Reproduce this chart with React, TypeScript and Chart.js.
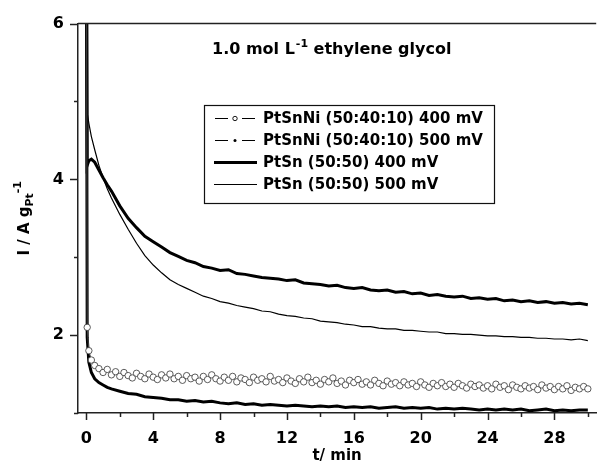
import React, { useEffect, useRef } from "react";
import { Chart, registerables } from "chart.js";

Chart.register(...registerables);

// time axis (min)
const time = [
  0, 0.05, 0.15, 0.3, 0.5, 0.75, 1, 1.25, 1.5,
  2, 2.5, 3, 3.5, 4, 4.5, 5, 5.5, 6, 6.5,
  7, 7.5, 8, 8.5, 9, 9.5, 10, 10.5, 11, 11.5,
  12, 12.5, 13, 13.5, 14, 14.5, 15, 15.5, 16, 16.5,
  17, 17.5, 18, 18.5, 19, 19.5, 20, 20.5, 21, 21.5,
  22, 22.5, 23, 23.5, 24, 24.5, 25, 25.5, 26, 26.5,
  27, 27.5, 28, 28.5, 29, 29.5, 30,
];

// denser sampling of the open-circle series
const timeFine = [
  0, 0.05, 0.15, 0.3, 0.5,
  0.75, 1, 1.25, 1.5, 1.75,
  2, 2.25, 2.5, 2.75, 3, 3.25, 3.5, 3.75,
  4, 4.25, 4.5, 4.75, 5, 5.25, 5.5, 5.75,
  6, 6.25, 6.5, 6.75, 7, 7.25, 7.5, 7.75,
  8, 8.25, 8.5, 8.75, 9, 9.25, 9.5, 9.75,
  10, 10.25, 10.5, 10.75, 11, 11.25, 11.5, 11.75,
  12, 12.25, 12.5, 12.75, 13, 13.25, 13.5, 13.75,
  14, 14.25, 14.5, 14.75, 15, 15.25, 15.5, 15.75,
  16, 16.25, 16.5, 16.75, 17, 17.25, 17.5, 17.75,
  18, 18.25, 18.5, 18.75, 19, 19.25, 19.5, 19.75,
  20, 20.25, 20.5, 20.75, 21, 21.25, 21.5, 21.75,
  22, 22.25, 22.5, 22.75, 23, 23.25, 23.5, 23.75,
  24, 24.25, 24.5, 24.75, 25, 25.25, 25.5, 25.75,
  26, 26.25, 26.5, 26.75, 27, 27.25, 27.5, 27.75,
  28, 28.25, 28.5, 28.75, 29, 29.25, 29.5, 29.75,
  30,
];

const ptSnNi400 = [
  8, 2.1, 1.8, 1.68, 1.61,
  1.57, 1.52, 1.56, 1.49, 1.53,
  1.47, 1.52, 1.48, 1.45, 1.51, 1.47, 1.44, 1.5,
  1.46, 1.43, 1.49, 1.45, 1.5, 1.44, 1.47, 1.42,
  1.48, 1.44, 1.46, 1.41, 1.47, 1.43, 1.49, 1.44,
  1.41, 1.46, 1.42, 1.47, 1.4, 1.45, 1.43, 1.39,
  1.46, 1.42, 1.44, 1.4, 1.47, 1.41, 1.43, 1.39,
  1.45, 1.41, 1.38, 1.44, 1.4, 1.46, 1.39, 1.42,
  1.37, 1.43, 1.4, 1.45, 1.38, 1.41, 1.36, 1.42,
  1.39, 1.43, 1.37, 1.4, 1.36, 1.42, 1.38, 1.35,
  1.41, 1.37, 1.39, 1.35, 1.4, 1.36, 1.38, 1.34,
  1.4, 1.36, 1.33, 1.38, 1.35, 1.39, 1.34, 1.37,
  1.33, 1.38, 1.35, 1.32, 1.37, 1.34, 1.36, 1.32,
  1.35, 1.31, 1.37, 1.33, 1.35, 1.3, 1.36, 1.33,
  1.31, 1.35, 1.32, 1.34, 1.3, 1.36, 1.32, 1.34,
  1.3, 1.34, 1.31, 1.35, 1.29, 1.33, 1.31, 1.34,
  1.31,
];

const ptSnNi500 = [
  8, 1.97, 1.65, 1.52, 1.44, 1.39, 1.36, 1.33, 1.31,
  1.28, 1.25, 1.24, 1.21, 1.2, 1.19, 1.17, 1.17, 1.15, 1.16,
  1.14, 1.15, 1.13, 1.12, 1.13, 1.11, 1.12, 1.1, 1.11, 1.1,
  1.09, 1.1, 1.09, 1.08, 1.09, 1.08, 1.09, 1.07, 1.08, 1.07,
  1.08, 1.06, 1.07, 1.08, 1.06, 1.07, 1.06, 1.07, 1.05, 1.06,
  1.05, 1.06, 1.05, 1.04, 1.05, 1.04, 1.05, 1.04, 1.05, 1.03,
  1.04, 1.05, 1.03, 1.04, 1.03, 1.04, 1.04,
];

const ptSn400 = [
  8, 4.18, 4.24, 4.26, 4.22, 4.12, 4.02, 3.93, 3.85,
  3.66, 3.5, 3.38, 3.27, 3.2, 3.13, 3.06, 3.01, 2.96, 2.93,
  2.88, 2.86, 2.83, 2.84, 2.79, 2.78, 2.76, 2.74, 2.73, 2.72,
  2.7, 2.71, 2.67, 2.66, 2.65, 2.63, 2.64, 2.61, 2.6, 2.61,
  2.58, 2.57, 2.58, 2.55, 2.56, 2.53, 2.54, 2.51, 2.52, 2.5,
  2.49, 2.5, 2.47, 2.48, 2.46, 2.47, 2.44, 2.45, 2.43, 2.44,
  2.42, 2.43, 2.41, 2.42, 2.4, 2.41, 2.39,
];

const ptSn500 = [
  8, 4.85, 4.72, 4.55, 4.38, 4.18, 4.02, 3.88, 3.76,
  3.55, 3.36, 3.18, 3.02, 2.9, 2.8, 2.71, 2.65, 2.6, 2.55,
  2.5, 2.47, 2.43, 2.41, 2.38, 2.36, 2.34, 2.31, 2.3, 2.27,
  2.25, 2.24, 2.22, 2.21, 2.18, 2.17, 2.16, 2.14, 2.13, 2.11,
  2.11, 2.09, 2.08, 2.08, 2.06, 2.06, 2.05, 2.04, 2.04, 2.02,
  2.02, 2.01, 2.01, 2.0, 1.99, 1.99, 1.98, 1.98, 1.97, 1.97,
  1.96, 1.96, 1.95, 1.95, 1.94, 1.95, 1.93,
];

const legendLabels = [
  "PtSnNi (50:40:10) 400 mV",
  "PtSnNi (50:40:10) 500 mV",
  "PtSn (50:50) 400 mV",
  "PtSn (50:50) 500 mV",
];

const xMajorTicks = [0, 4, 8, 12, 16, 20, 24, 28];
const xMinorTicks = [2, 6, 10, 14, 18, 22, 26, 30];
const yMajorTicks = [2, 4, 6];
const yMinorTicks = [1, 3, 5];

const titleParts = ["1.0 mol L", "-1", " ethylene glycol"];
const xTitle = "t/ min";
const yTitleParts = ["I / A g", "Pt", "-1"];

const FONT = '"DejaVu Sans", "Liberation Sans", Arial, sans-serif';
const AXIS_COLOR = "#222";

const toPoints = (xs: number[], vals: number[]) => vals.map((v, i) => ({ x: xs[i], y: v }));

const decorPlugin = {
  id: "decor",
  afterDraw(chart: any) {
    const ctx = chart.ctx as CanvasRenderingContext2D;
    const xs = chart.scales.x;
    const ys = chart.scales.y;
    const a = chart.chartArea;
    ctx.save();
    ctx.strokeStyle = AXIS_COLOR;
    ctx.lineWidth = 1.5;
    // top frame
    ctx.beginPath();
    ctx.moveTo(a.left, a.top);
    ctx.lineTo(a.right, a.top);
    ctx.stroke();
    const yTick = (v: number, len: number) => {
      const p = Math.round(ys.getPixelForValue(v)) + 0.5;
      ctx.beginPath();
      ctx.moveTo(a.left, p);
      ctx.lineTo(a.left - len, p);
      ctx.stroke();
    };
    yMajorTicks.forEach((v) => yTick(v, 8));
    yMinorTicks.forEach((v) => yTick(v, 4));
    const xTick = (v: number, len: number) => {
      const p = Math.round(xs.getPixelForValue(v)) + 0.5;
      ctx.beginPath();
      ctx.moveTo(p, a.bottom);
      ctx.lineTo(p, a.bottom + len);
      ctx.stroke();
    };
    xMajorTicks.forEach((v) => xTick(v, 7));
    xMinorTicks.forEach((v) => xTick(v, 4));

    ctx.fillStyle = "#000";
    ctx.textBaseline = "alphabetic";
    ctx.textAlign = "left";

    // in-plot title
    let tx = 212;
    const ty = 54;
    ctx.font = `bold 16px ${FONT}`;
    ctx.fillText(titleParts[0], tx, ty);
    tx += ctx.measureText(titleParts[0]).width + 1;
    ctx.font = `bold 11px ${FONT}`;
    ctx.fillText(titleParts[1], tx, ty - 7);
    tx += ctx.measureText(titleParts[1]).width;
    ctx.font = `bold 16px ${FONT}`;
    ctx.fillText(titleParts[2], tx, ty);

    // legend
    ctx.lineWidth = 1.2;
    ctx.strokeStyle = "#111";
    ctx.strokeRect(204.5, 105.5, 290, 98);
    const rows = [118, 140, 162, 184];
    ctx.font = `bold 15px ${FONT}`;
    ctx.textBaseline = "middle";
    rows.forEach((ry, i) => {
      ctx.strokeStyle = "#000";
      if (i === 0 || i === 1) {
        ctx.lineWidth = 1;
        ctx.beginPath();
        ctx.moveTo(215, ry + 0.5);
        ctx.lineTo(228, ry + 0.5);
        ctx.moveTo(242, ry + 0.5);
        ctx.lineTo(255, ry + 0.5);
        ctx.stroke();
        ctx.beginPath();
        if (i === 0) {
          ctx.arc(235, ry + 0.5, 2.2, 0, Math.PI * 2);
          ctx.fillStyle = "#fff";
          ctx.fill();
          ctx.lineWidth = 0.9;
          ctx.stroke();
        } else {
          ctx.arc(235, ry + 0.5, 1.5, 0, Math.PI * 2);
          ctx.fillStyle = "#000";
          ctx.fill();
        }
      } else {
        ctx.lineWidth = i === 2 ? 3 : 1;
        ctx.beginPath();
        ctx.moveTo(214, ry + 0.5);
        ctx.lineTo(257, ry + 0.5);
        ctx.stroke();
      }
      ctx.fillStyle = "#000";
      ctx.fillText(legendLabels[i], 263, ry + 1);
    });

    // x title
    ctx.textAlign = "center";
    ctx.textBaseline = "alphabetic";
    ctx.font = `bold 15px ${FONT}`;
    ctx.fillText(xTitle, (a.left + a.right) / 2, 460);

    // y title (rotated)
    ctx.save();
    ctx.font = `bold 15px ${FONT}`;
    const w0 = ctx.measureText(yTitleParts[0]).width;
    ctx.font = `bold 11px ${FONT}`;
    const w1 = ctx.measureText(yTitleParts[1]).width;
    const w2 = ctx.measureText(yTitleParts[2]).width;
    const total = w0 + w1 + w2;
    const cy = (a.top + a.bottom) / 2;
    ctx.translate(29, cy + total / 2);
    ctx.rotate(-Math.PI / 2);
    ctx.textAlign = "left";
    ctx.font = `bold 15px ${FONT}`;
    ctx.fillText(yTitleParts[0], 0, 0);
    ctx.font = `bold 11px ${FONT}`;
    ctx.fillText(yTitleParts[1], w0, 4);
    ctx.fillText(yTitleParts[2], w0 + w1, -8);
    ctx.restore();

    ctx.restore();
  },
};

export default function App() {
  const ref = useRef<HTMLCanvasElement | null>(null);
  useEffect(() => {
    if (!ref.current) return;
    const chart = new Chart(ref.current, {
      type: "line",
      data: {
        datasets: [
          {
            label: legendLabels[0],
            data: toPoints(timeFine, ptSnNi400),
            borderColor: "#444",
            borderWidth: 1,
            pointRadius: (c: any) => (c.dataIndex === 0 ? 0 : 3.2),
            pointBackgroundColor: "#fff",
            pointBorderColor: "#333",
            pointBorderWidth: 0.8,
            order: 0,
          },
          {
            label: legendLabels[1],
            data: toPoints(time, ptSnNi500),
            borderColor: "#000",
            borderWidth: 3,
            pointRadius: 0,
            order: 1,
          },
          {
            label: legendLabels[2],
            data: toPoints(time, ptSn400),
            borderColor: "#000",
            borderWidth: 3,
            pointRadius: 0,
            order: 2,
          },
          {
            label: legendLabels[3],
            data: toPoints(time, ptSn500),
            borderColor: "#000",
            borderWidth: 1.2,
            pointRadius: 0,
            order: 3,
          },
        ],
      },
      options: {
        animation: false,
        responsive: false,
        events: [],
        layout: { padding: { top: 21, right: 1, left: 0, bottom: 0 } },
        plugins: { legend: { display: false }, tooltip: { enabled: false } },
        elements: { line: { tension: 0 } },
        scales: {
          x: {
            type: "linear",
            min: -0.5,
            max: 30.5,
            afterBuildTicks: (s: any) => {
              s.ticks = xMajorTicks.map((v) => ({ value: v }));
            },
            afterFit: (s: any) => {
              s.height = 58;
            },
            ticks: {
              autoSkip: false,
              maxRotation: 0,
              padding: 16,
              color: "#000",
              font: { family: FONT, size: 16, weight: "bold" },
              callback: (v: any) => String(v),
            },
            grid: { display: true, drawOnChartArea: false, drawTicks: false },
            border: { display: true, color: AXIS_COLOR, width: 1.5 },
          },
          y: {
            type: "linear",
            min: 1,
            max: 6,
            afterBuildTicks: (s: any) => {
              s.ticks = yMajorTicks.map((v) => ({ value: v }));
            },
            afterFit: (s: any) => {
              s.width = 78;
            },
            ticks: {
              autoSkip: false,
              padding: 14,
              color: "#000",
              font: { family: FONT, size: 16, weight: "bold" },
              callback: (v: any) => String(v),
            },
            grid: { display: true, drawOnChartArea: false, drawTicks: false },
            border: { display: true, color: AXIS_COLOR, width: 1.5 },
          },
        },
      },
      plugins: [decorPlugin],
    } as any);
    return () => chart.destroy();
  }, []);
  return (
    <div style={{ position: "fixed", left: 0, top: 0, width: 601, height: 471, background: "#fff" }}>
      <canvas ref={ref} width={601} height={471} style={{ display: "block" }} />
    </div>
  );
}
